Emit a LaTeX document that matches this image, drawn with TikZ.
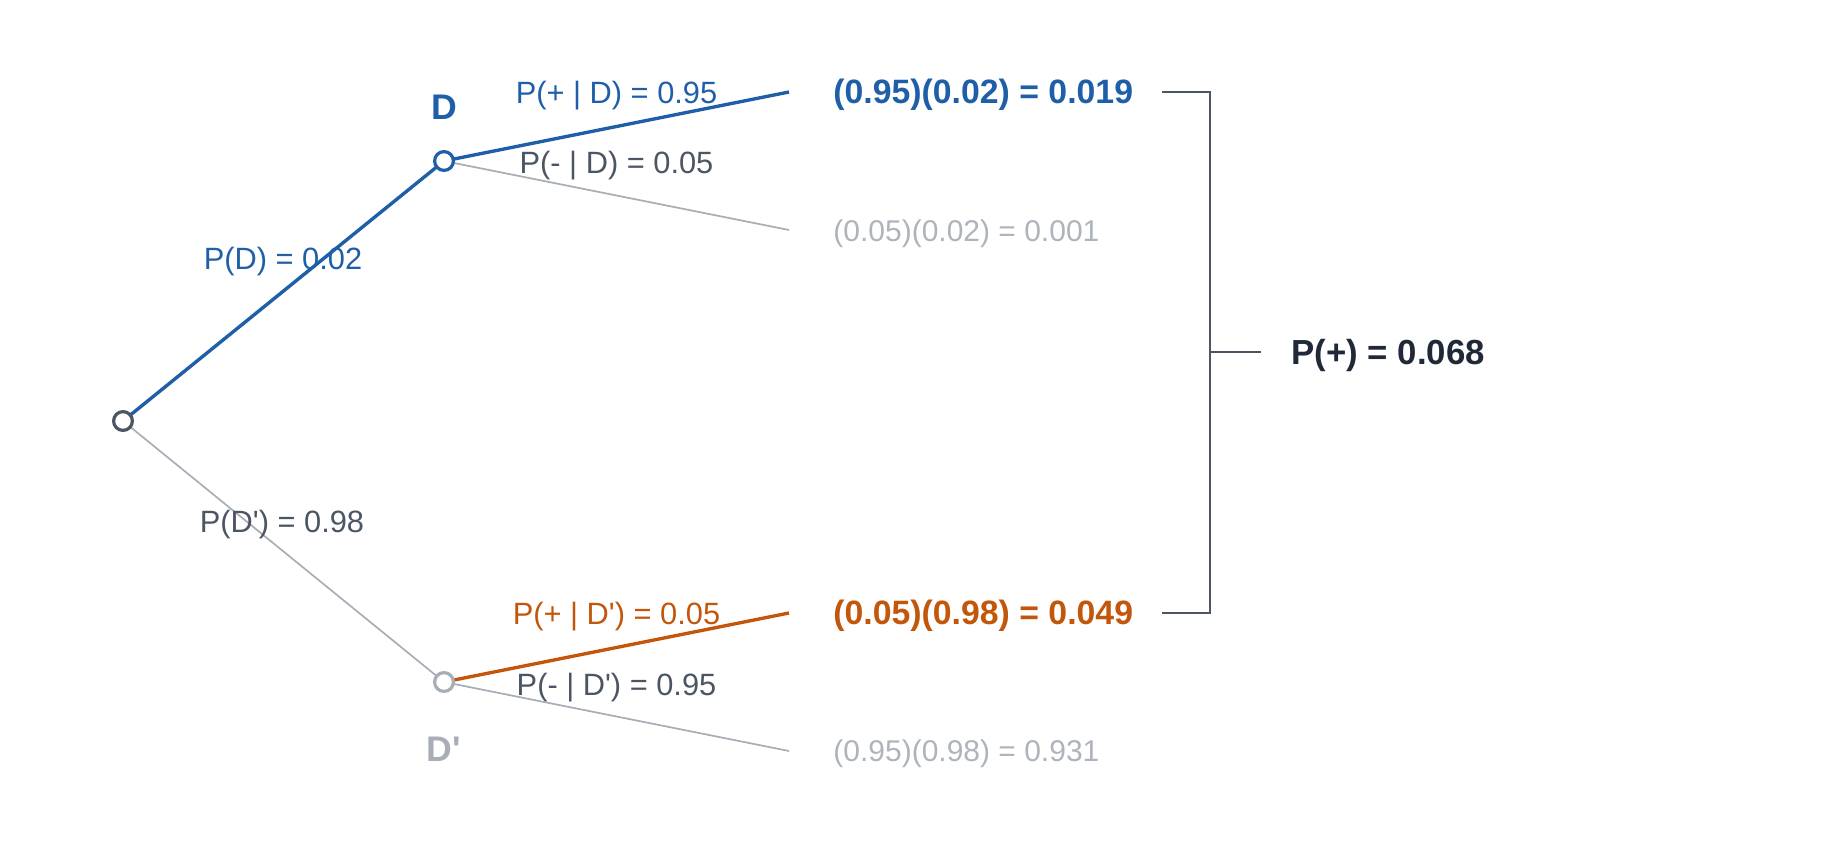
\documentclass[tikz,border=0pt]{standalone}
\usepackage{fontspec}
\setmainfont{Liberation Sans}
\definecolor{cblue}{HTML}{1F5FA8}
\definecolor{corange}{HTML}{C2570C}
\definecolor{cdark}{HTML}{4B5563}
\definecolor{cline}{HTML}{A8AEB6}
\definecolor{cfaint}{HTML}{ADB4BC}
\definecolor{cblack}{HTML}{1F2937}
\newcommand{\qs}{\textquotesingle}
\tikzset{
  treenode/.style={circle, draw, line width=1.6pt, fill=white, minimum size=9.4pt, inner sep=0pt},
  lbl/.style={font=\fontsize{15.4}{18}\selectfont, inner sep=0pt},
  outc/.style={anchor=west, inner sep=0pt},
  hot/.style={line width=1.7pt},
  cold/.style={line width=0.85pt, draw=cline},
}
\begin{document}
\begin{tikzpicture}[x=0.5pt,y=-0.5pt]
\useasboundingbox (0,0) rectangle (1824,844);
% end coordinates
\coordinate (e1) at (789,92);
\coordinate (e2) at (789,230);
\coordinate (e3) at (789,613);
\coordinate (e4) at (789,751);
% node positions
\coordinate (rootc) at (123,421);
\coordinate (dc) at (444,161);
\coordinate (dpc) at (444,682);
% gray branches
\draw[cold] (rootc) -- (dpc);
\draw[cold] (dc) -- (e2);
\draw[cold] (dpc) -- (e4);
% colored branches
\draw[hot, cblue] (rootc) -- (dc);
\draw[hot, cblue] (dc) -- (e1);
\draw[hot, corange] (dpc) -- (e3);
% nodes
\node[treenode, draw=cdark] (root) at (rootc) {};
\node[treenode, draw=cblue] (D) at (dc) {};
\node[treenode, draw=cline] (Dp) at (dpc) {};
% node labels
\node[font=\fontsize{17.8}{20}\selectfont\bfseries, text=cblue, inner sep=0pt] (Dlab) at (444,107) {D};
\node[font=\fontsize{17.8}{20}\selectfont\bfseries, text=cline, inner sep=0pt] (Dplab) at (444,749) {D\qs};
% branch labels
\node[lbl, text=cblue] (lPD) at (283,262) {P(D) = 0.02};
\node[lbl, text=cdark] (lPDp) at (282,525) {P(D\qs) = 0.98};
\node[lbl, text=cblue] (lpD) at (616.5,95.5) {P(+ | D) = 0.95};
\node[lbl, text=cdark] (lmD) at (616.5,166) {P(- | D) = 0.05};
\node[lbl, text=corange] (lpDp) at (616.5,617) {P(+ | D\qs) = 0.05};
\node[lbl, text=cdark] (lmDp) at (616.5,688) {P(- | D\qs) = 0.95};
% outcomes
\node[outc, font=\fontsize{16.9}{20}\selectfont\bfseries, text=cblue] (o1) at (833,95) {(0.95)(0.02) = 0.019};
\node[outc, font=\fontsize{15}{18}\selectfont, text=cfaint] (o2) at (833,234) {(0.05)(0.02) = 0.001};
\node[outc, font=\fontsize{16.9}{20}\selectfont\bfseries, text=corange] (o3) at (833,616) {(0.05)(0.98) = 0.049};
\node[outc, font=\fontsize{15}{18}\selectfont, text=cfaint] (o4) at (833,754) {(0.95)(0.98) = 0.931};
% bracket
\coordinate (b1) at (1162,92);
\coordinate (b2) at (1162,613);
\coordinate (bm) at (1261,352);
\draw[cdark, line width=0.9pt] (b1) -- (1210,92) -- (1210,613) -- (b2);
\draw[cdark, line width=0.9pt] (1210,352) -- (bm);
\node[outc, font=\fontsize{17.4}{20}\selectfont\bfseries, text=cblack] (total) at (1291,356) {P(+) = 0.068};
\end{tikzpicture}
\end{document}
